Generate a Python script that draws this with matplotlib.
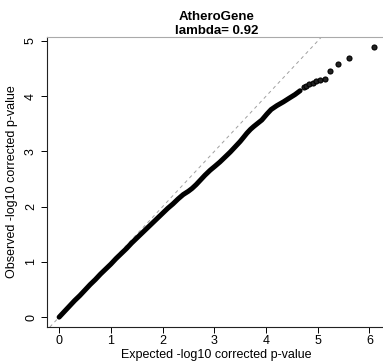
import matplotlib
matplotlib.use("Agg")
import matplotlib.pyplot as plt

plt.rcParams["font.family"] = ["Liberation Sans", "DejaVu Sans"]

title = "AtheroGene\nlambda= 0.92"
x_label = "Expected -log10 corrected p-value"
y_label = "Observed -log10 corrected p-value"

# bulk of the QQ points (dense band)
bulk_expected = [0.00, 0.10, 0.20, 0.30, 0.40, 0.50, 0.60, 0.70, 0.80, 0.90,
                 1.00, 1.10, 1.20, 1.30, 1.40, 1.50, 1.60, 1.70, 1.80, 1.90,
                 2.00, 2.10, 2.20, 2.30, 2.40, 2.50, 2.57, 2.65, 2.73, 2.82,
                 2.92, 3.01, 3.11, 3.21, 3.31, 3.40, 3.50, 3.57, 3.63, 3.70,
                 3.76, 3.84, 3.92, 4.02, 4.10, 4.21, 4.34, 4.44, 4.56, 4.66]
bulk_observed = [0.00, 0.10, 0.20, 0.30, 0.39, 0.49, 0.59, 0.68, 0.78, 0.87,
                 0.96, 1.06, 1.15, 1.24, 1.34, 1.43, 1.52, 1.61, 1.70, 1.79,
                 1.88, 1.97, 2.05, 2.14, 2.22, 2.28, 2.33, 2.40, 2.48, 2.57,
                 2.66, 2.73, 2.81, 2.90, 2.99, 3.08, 3.18, 3.26, 3.33, 3.40,
                 3.45, 3.51, 3.57, 3.68, 3.76, 3.83, 3.90, 3.96, 4.03, 4.10]

# top hits, drawn as separate points
tail_expected = [4.73, 4.78, 4.84, 4.90, 4.97, 5.05, 5.14, 5.24, 5.39, 5.61, 6.09]
tail_observed = [4.16, 4.19, 4.22, 4.24, 4.28, 4.30, 4.32, 4.45, 4.58, 4.70, 4.89]

x_ticks = [0, 1, 2, 3, 4, 5, 6]
y_ticks = [0, 1, 2, 3, 4, 5]

fig = plt.figure(figsize=(3.83, 3.61), dpi=100)
ax = fig.add_axes([0.122, 0.094, 0.887, 0.803])

ax.axline((0, 0), slope=1, color="#a0a0a0", lw=0.7, ls=(0, (3.5, 3.5)), zorder=1)

# points overlap so heavily that the bulk reads as one thick stroke
ax.plot(bulk_expected, bulk_observed, color="black", lw=3.6,
        solid_capstyle="round", solid_joinstyle="round", zorder=2)
ax.plot(tail_expected, tail_observed, "o", color="black", mfc="#222222",
        mec="black", ms=3.6, mew=0.8, zorder=3)

ax.set_xlim(-0.24, 6.33)
ax.set_ylim(-0.18, 5.07)
ax.set_xticks(x_ticks)
ax.set_yticks(y_ticks)
ax.tick_params(direction="out", length=4, width=0.7, labelsize=9, pad=2)
ax.tick_params(axis="y", pad=3)
for lab in ax.get_yticklabels():
    lab.set_rotation(90)
    lab.set_va("center")

for side in ["left", "bottom"]:
    ax.spines[side].set_color("#222222")
    ax.spines[side].set_linewidth(0.8)
ax.spines["top"].set_color("#aaaaaa")
ax.spines["top"].set_linewidth(0.8)
ax.spines["right"].set_visible(False)

ax.set_xlabel(x_label, fontsize=9, labelpad=1)
ax.set_ylabel(y_label, fontsize=9, labelpad=5)
ax.set_title(title, fontsize=9.5, fontweight="bold", pad=2, linespacing=1.25)

fig.savefig("out.png", dpi=100)
